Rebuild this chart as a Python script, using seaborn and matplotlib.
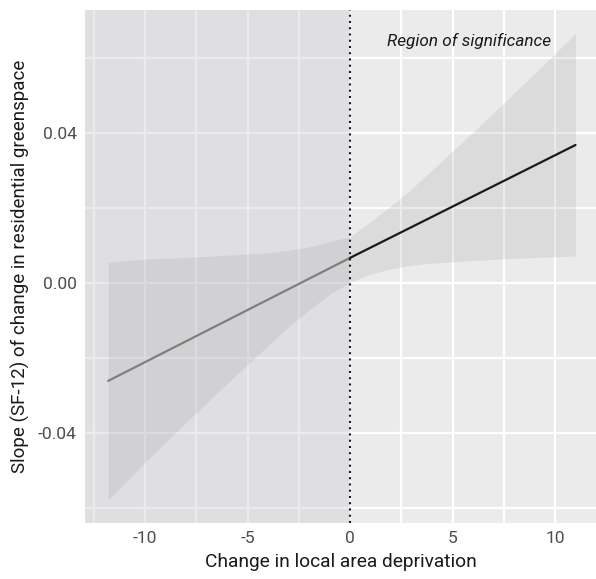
import numpy as np
import pandas as pd
import matplotlib
matplotlib.use("Agg")
import matplotlib.pyplot as plt
from matplotlib.ticker import MultipleLocator
import seaborn as sns

# Johnson-Neyman style plot: slope of greenspace change across deprivation change
# values
band_x = [-11.8, -10, -8, -6, -4, -3, -2, -1, 0, 1, 2, 3, 4, 6, 8, 10, 11]
band_upper = [0.0056, 0.0064, 0.0068, 0.0074, 0.0081, 0.0087, 0.0096, 0.0110, 0.0123,
              0.0164, 0.0206, 0.0251, 0.0301, 0.0402, 0.0506, 0.0612, 0.0665]
band_lower = [-0.0579, -0.0478, -0.0372, -0.0268, -0.0167, -0.0117, -0.0072, -0.0030, 0.0002,
              0.0024, 0.0038, 0.0047, 0.0053, 0.0060, 0.0066, 0.0070, 0.0072]

slope_x = [-11.8, 0, 11]
slope_y = [-0.0261, 0.0067, 0.0368]

jn_point = 0.0
x_ticks = [-10, -5, 0, 5, 10]
y_ticks = [-0.04, 0.00, 0.04]
x_limits = (-12.93, 12.0)
y_limits = (-0.064, 0.0728)

band = pd.DataFrame({"x": band_x, "upper": band_upper, "lower": band_lower})
slope = pd.DataFrame({"x": slope_x, "y": slope_y})

sns.set_theme(style="darkgrid", rc={
    "axes.facecolor": "#EBEBEB",
    "grid.color": "white",
    "grid.linewidth": 1.6,
})
plt.rcParams["font.family"] = ["Roboto", "DejaVu Sans"]

fig = plt.figure(figsize=(5.96, 5.79), dpi=100)
ax = fig.add_axes([85 / 596, 1 - 523 / 579, 511 / 596, 513 / 579])

# minor grid on every half step, same look as major
ax.xaxis.set_minor_locator(MultipleLocator(2.5))
ax.yaxis.set_minor_locator(MultipleLocator(0.02))
ax.grid(True, which="both", color="white", linewidth=1.6)
ax.set_axisbelow(True)

# insignificant region shading
ax.axvspan(x_limits[0] - 5, jn_point, color="#cdced2", alpha=0.4, lw=0, zorder=1)

# confidence band
ins = band[band["x"] <= jn_point]
sig = band[band["x"] >= jn_point]
for part in (ins, sig):
    ax.fill_between(part["x"], part["lower"], part["upper"], color="#9c9c9e",
                    alpha=0.2, lw=0, zorder=2)

ins_line = slope[slope["x"] <= jn_point]
sig_line = slope[slope["x"] >= jn_point]
sns.lineplot(data=ins_line, x="x", y="y", ax=ax, color="#7f7f7f", linewidth=1.6, zorder=3)
sns.lineplot(data=sig_line, x="x", y="y", ax=ax, color="#1a1a1a", linewidth=1.6, zorder=3)

ax.axvline(jn_point, color="#1a1a1a", linestyle=(0, (1, 2)), linewidth=1.5, zorder=4)

ax.text(5.8, 0.0645, "Region of significance", style="italic", fontsize=12.3,
        color="#1a1a1a", ha="center", va="center")

ax.set_xlim(*x_limits)
ax.set_ylim(*y_limits)
ax.set_xticks(x_ticks)
ax.set_xticklabels([f"{t:g}" for t in x_ticks])
ax.set_yticks(y_ticks)
ax.set_yticklabels([f"{t:.2f}" for t in y_ticks])
ax.tick_params(axis="both", which="both", length=0, labelsize=12.5, labelcolor="#4d4d4d", pad=6)

ax.set_xlabel("Change in local area deprivation", fontsize=13.8, color="#1a1a1a", labelpad=5)
ax.set_ylabel("Slope (SF-12) of change in residential greenspace", fontsize=13.5,
              color="#1a1a1a", labelpad=6)
for s in ax.spines.values():
    s.set_visible(False)

fig.savefig("out.png", dpi=100)
